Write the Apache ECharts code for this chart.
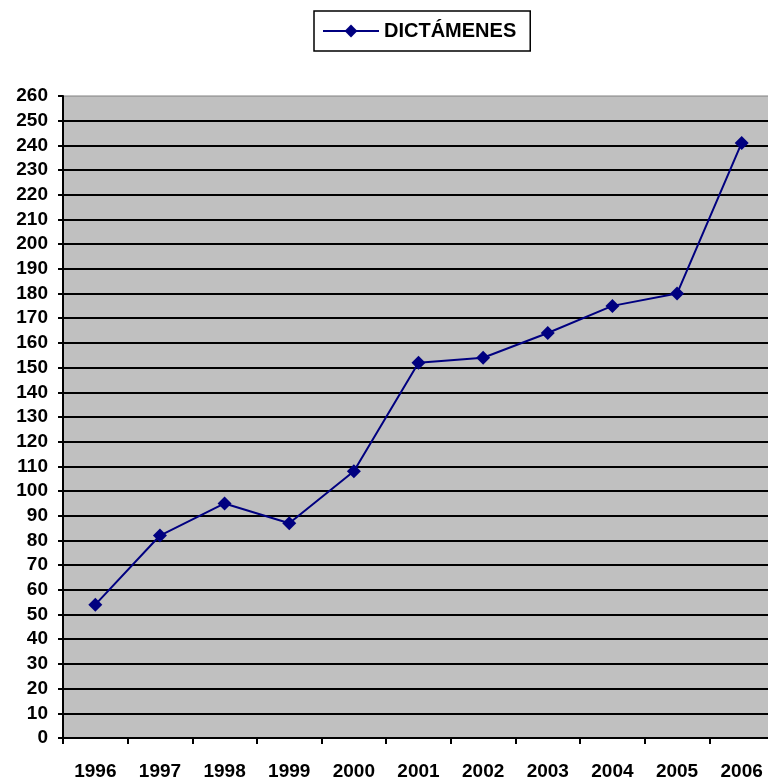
<!DOCTYPE html>
<html>
<head>
<meta charset="utf-8">
<script src="https://cdn.jsdelivr.net/npm/echarts@6/dist/echarts.min.js"></script>
<style>
  html, body { margin: 0; padding: 0; background: #fff; }
  #chart { width: 768px; height: 783px; }
</style>
</head>
<body>
<div id="chart"></div>
<script>
// datos
const years = ['1996', '1997', '1998', '1999', '2000', '2001', '2002', '2003', '2004', '2005', '2006'];
const dictamenes = [54, 82, 95, 87, 108, 152, 154, 164, 175, 180, 241];
const seriesName = 'DICTÁMENES';

const chart = echarts.init(document.getElementById('chart'), null, { renderer: 'canvas' });

const option = {
  animation: false,
  textStyle: { fontFamily: 'Liberation Sans, Arial, sans-serif' },
  legend: {
    data: [seriesName],
    top: 11,
    left: 314,
    padding: [10, 14, 10, 8],
    itemWidth: 56,
    itemHeight: 16,
    itemGap: 6,
    borderColor: '#000',
    borderWidth: 1.5,
    textStyle: { fontSize: 20, fontWeight: 'bold', color: '#000' }
  },
  grid: {
    left: 63,
    top: 96,
    width: 711,
    bottom: 45,
    outerBoundsMode: 'none',
    show: true,
    backgroundColor: '#c0c0c0',
    borderColor: '#808080',
    borderWidth: 1
  },
  xAxis: {
    type: 'category',
    data: years,
    boundaryGap: true,
    axisLine: { lineStyle: { color: '#000', width: 2 } },
    axisTick: { show: true, length: 6, lineStyle: { color: '#000', width: 2 } },
    axisLabel: { color: '#000', fontSize: 19, fontWeight: 'bold', margin: 24 }
  },
  yAxis: {
    type: 'value',
    min: 0,
    max: 260,
    interval: 10,
    axisLine: { show: true, lineStyle: { color: '#000', width: 2 } },
    axisTick: { show: true, length: 5, lineStyle: { color: '#000', width: 2 } },
    axisLabel: { color: '#000', fontSize: 19, fontWeight: 'bold', margin: 15 },
    splitLine: { show: true, showMaxLine: false, lineStyle: { color: '#000', width: 2 } }
  },
  series: [{
    name: seriesName,
    type: 'line',
    data: dictamenes,
    symbol: 'diamond',
    symbolSize: [14, 14],
    lineStyle: { color: '#000080', width: 2 },
    itemStyle: { color: '#000080' }
  }]
};

chart.setOption(option);
</script>
</body>
</html>
